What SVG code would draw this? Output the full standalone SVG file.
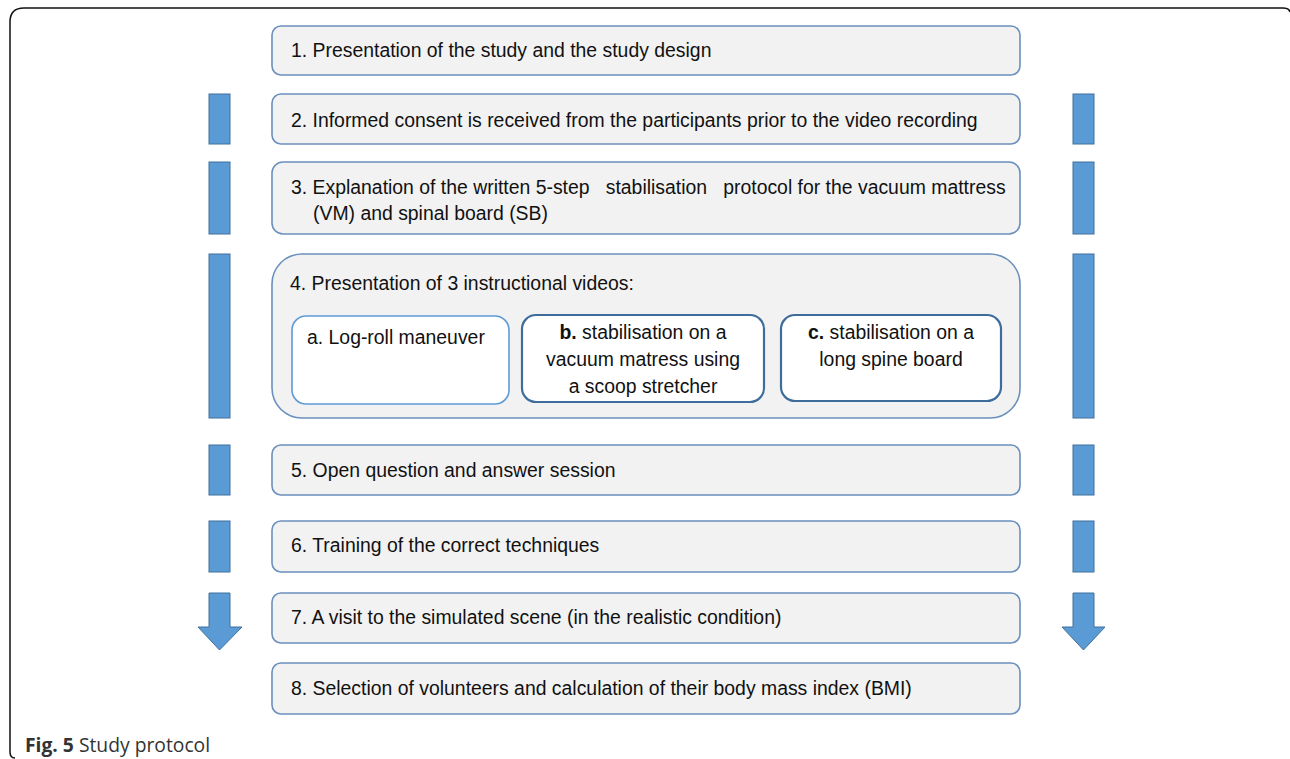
<svg xmlns="http://www.w3.org/2000/svg" width="1290" height="759" viewBox="0 0 1290 759">
<style>
.box{fill:#f2f2f2;stroke:#6a90bd;stroke-width:1.6}
.sub{fill:#ffffff;stroke:#5b9bd5;stroke-width:1.6}
.subd{fill:#ffffff;stroke:#3e6d9c;stroke-width:2.2}
.bar{fill:#5b9bd5;stroke:#41719c;stroke-width:1}
text{font-family:"Liberation Sans",Arial,sans-serif;font-size:19.4px;fill:#111}
.c{text-anchor:middle}
.cap{font-family:"Open Sans","Liberation Sans",sans-serif;font-size:19.3px;fill:#333}
</style>
<rect width="1290" height="759" fill="#ffffff"/>
<path d="M15,758 Q10,758 10,752 L10,22 Q10,8 24,8 L1283,8 Q1289,8 1290,12" fill="none" stroke="#111" stroke-width="1.5"/>
<g id="connectors">
<rect class="bar" x="209" y="94" width="21" height="50"/>
<rect class="bar" x="209" y="162" width="21" height="72"/>
<rect class="bar" x="209" y="254" width="21" height="164"/>
<rect class="bar" x="209" y="445" width="21" height="50"/>
<rect class="bar" x="209" y="521" width="21" height="51"/>
<path class="bar" d="M209,593 H230 V627 H242 L219.5,650 L198,627 H209 Z"/>
<rect class="bar" x="1073" y="94" width="21" height="50"/>
<rect class="bar" x="1073" y="162" width="21" height="72"/>
<rect class="bar" x="1073" y="254" width="21" height="164"/>
<rect class="bar" x="1073" y="445" width="21" height="50"/>
<rect class="bar" x="1073" y="521" width="21" height="51"/>
<path class="bar" d="M1073,593 H1094 V627 H1105 L1083.5,650 L1062,627 H1073 Z"/>
</g>
<g id="n1"><rect class="box" x="272" y="26" width="748" height="49" rx="9"/><text x="291" y="57">1. Presentation of the study and the study design</text></g>
<g id="n2"><rect class="box" x="272" y="94" width="748" height="50" rx="9"/><text x="291" y="127">2. Informed consent is received from the participants prior to the video recording</text></g>
<g id="n3"><rect class="box" x="272" y="162" width="748" height="72" rx="11"/><text x="291" y="194" xml:space="preserve">3. Explanation of the written 5-step   stabilisation   protocol for the vacuum mattress</text><text x="313" y="220">(VM) and spinal board (SB)</text></g>
<g id="n4"><rect class="box" x="272" y="254" width="748" height="164" rx="30"/><text x="290" y="290">4. Presentation of 3 instructional videos:</text></g>
<g id="n4a"><rect class="sub" x="292" y="316" width="217" height="88" rx="14"/><text x="307" y="344">a. Log-roll maneuver</text></g>
<g id="n4b"><rect class="subd" x="522" y="315" width="242" height="87" rx="14"/><text class="c" x="643" y="339"><tspan font-weight="bold">b.</tspan> stabilisation on a</text><text class="c" x="643" y="366">vacuum matress using</text><text class="c" x="643" y="393">a scoop stretcher</text></g>
<g id="n4c"><rect class="subd" x="781" y="315" width="220" height="86" rx="14"/><text class="c" x="891" y="339"><tspan font-weight="bold">c.</tspan> stabilisation on a</text><text class="c" x="891" y="366">long spine board</text></g>
<g id="n5"><rect class="box" x="272" y="445" width="748" height="50" rx="9"/><text x="291" y="477">5. Open question and answer session</text></g>
<g id="n6"><rect class="box" x="272" y="521" width="748" height="51" rx="9"/><text x="291" y="552">6. Training of the correct techniques</text></g>
<g id="n7"><rect class="box" x="272" y="593" width="748" height="50" rx="9"/><text x="291" y="624">7. A visit to the simulated scene (in the realistic condition)</text></g>
<g id="n8"><rect class="box" x="272" y="663" width="748" height="51" rx="9"/><text x="291" y="695">8. Selection of volunteers and calculation of their body mass index (BMI)</text></g>
<text class="cap" x="25" y="752"><tspan font-weight="bold">Fig. 5</tspan> Study protocol</text>
</svg>
